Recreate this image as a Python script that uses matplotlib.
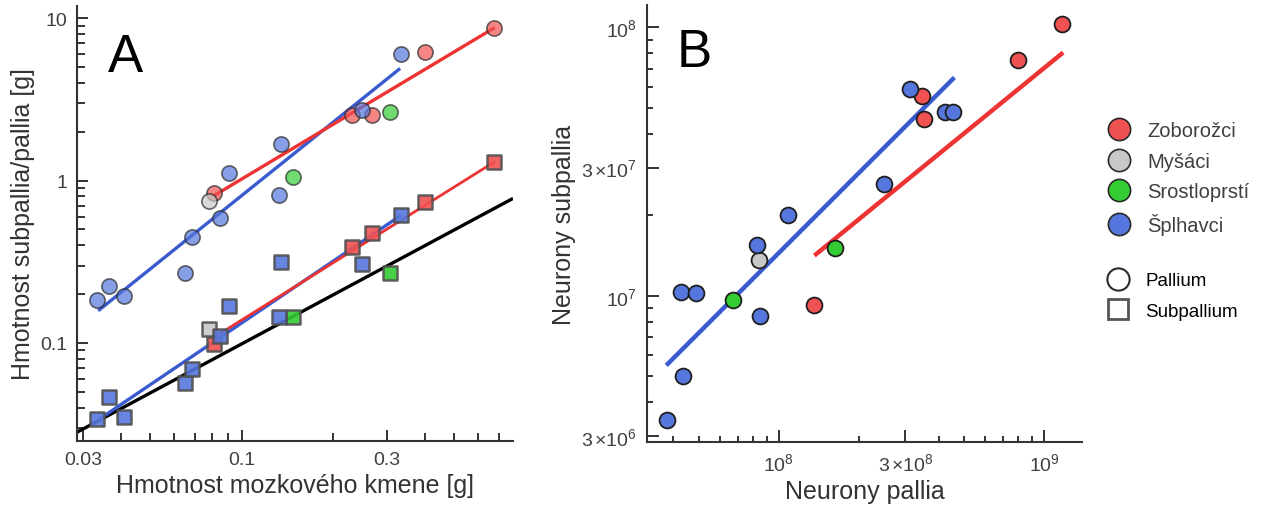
import matplotlib
matplotlib.use('Agg')
import matplotlib.pyplot as plt
from matplotlib.lines import Line2D
from matplotlib.ticker import FixedLocator, FixedFormatter, NullFormatter

plt.rcParams['font.family'] = ['Liberation Sans', 'DejaVu Sans']
plt.rcParams['mathtext.fontset'] = 'custom'
plt.rcParams['mathtext.rm'] = 'Liberation Sans'
plt.rcParams['mathtext.it'] = 'Liberation Sans:italic'

# groups
groups = ['Zoborožci', 'Myšáci', 'Srostloprstí', 'Šplhavci']
group_colors = ['#F05252', '#C8C8C8', '#33CC33', '#5577DD']

# panel A: brainstem mass [g] vs pallium / subpallium mass [g]
a_x_zob = [0.0808, 0.2299, 0.2686, 0.3993, 0.677]
a_pal_zob = [0.838, 2.54, 2.54, 6.24, 8.77]
a_sub_zob = [0.0986, 0.391, 0.473, 0.741, 1.31]

a_x_mys = [0.0782]
a_pal_mys = [0.751]
a_sub_mys = [0.122]

a_x_sro = [0.1469, 0.3070]
a_pal_sro = [1.046, 2.63]
a_sub_sro = [0.145, 0.269]

a_x_spl = [0.0334, 0.0367, 0.0411, 0.0650, 0.0684, 0.0849, 0.0909, 0.1322, 0.1349, 0.2485, 0.333]
a_pal_spl = [0.184, 0.223, 0.195, 0.270, 0.451, 0.590, 1.11, 0.818, 1.69, 2.72, 6.0]
a_sub_spl = [0.0341, 0.0467, 0.0352, 0.0565, 0.0692, 0.110, 0.170, 0.144, 0.314, 0.306, 0.616]

# panel A fit lines (end points)
a_fit_pal_spl_x = [0.0337, 0.3318]
a_fit_pal_spl_y = [0.158, 4.91]
a_fit_pal_zob_x = [0.0808, 0.680]
a_fit_pal_zob_y = [0.806, 8.77]
a_fit_sub_zob_x = [0.0808, 0.680]
a_fit_sub_zob_y = [0.108, 1.31]
a_fit_sub_spl_x = [0.0337, 0.3334]
a_fit_sub_spl_y = [0.0336, 0.610]
a_ref_x = [0.0287, 0.78]
a_ref_y = [0.0282, 0.777]

# panel B: pallial vs subpallial neurons
b_x_zob = [1.36e8, 3.46e8, 3.53e8, 7.94e8, 1.17e9]
b_y_zob = [9.2e6, 5.54e7, 4.54e7, 7.55e7, 1.03e8]
b_x_mys = [8.38e7]
b_y_mys = [1.36e7]
b_x_sro = [6.7e7, 1.63e8]
b_y_sro = [9.66e6, 1.51e7]
b_x_spl = [3.77e7, 4.29e7, 4.34e7, 4.86e7, 8.26e7, 8.48e7, 1.08e8, 2.5e8, 3.12e8, 4.22e8, 4.54e8]
b_y_spl = [3.43e6, 1.03e7, 5.02e6, 1.02e7, 1.55e7, 8.42e6, 2.0e7, 2.6e7, 5.88e7, 4.84e7, 4.84e7]

b_fit_spl_x = [3.76e7, 4.59e8]
b_fit_spl_y = [5.5e6, 6.5e7]
b_fit_zob_x = [1.36e8, 1.18e9]
b_fit_zob_y = [1.41e7, 8.05e7]

RED_LINE = '#EE3333'
BLUE_LINE = '#3A5BCF'
AX_COL = '#333333'
TXT_COL = '#404040'

fig = plt.figure(figsize=(12.64, 5.06), dpi=100)
axA = fig.add_axes([77 / 1264, 1 - 442 / 506, (513 - 77) / 1264, (442 - 7) / 506])
axB = fig.add_axes([647 / 1264, 1 - 443 / 506, (1082 - 647) / 1264, (443 - 6) / 506])


def style_axis(ax, major_len, minor_len):
    ax.set_xscale('log')
    ax.set_yscale('log')
    for s in ['top', 'right']:
        ax.spines[s].set_visible(False)
    for s in ['left', 'bottom']:
        ax.spines[s].set_color(AX_COL)
        ax.spines[s].set_linewidth(1.5)
    ax.tick_params(which='both', direction='in', color=AX_COL, width=1.4,
                   labelcolor=TXT_COL, labelsize=14)
    ax.tick_params(which='major', length=major_len)
    ax.tick_params(which='minor', length=minor_len)
    ax.tick_params(axis='x', which='both', pad=7)
    ax.tick_params(axis='y', which='both', pad=7)


# ---- panel A
style_axis(axA, 8, 5.5)
axA.plot(a_ref_x, a_ref_y, color='black', lw=2.4, zorder=2, solid_capstyle='butt')
axA.plot(a_fit_pal_spl_x, a_fit_pal_spl_y, color=BLUE_LINE, lw=2.4, zorder=2, solid_capstyle='butt')
axA.plot(a_fit_pal_zob_x, a_fit_pal_zob_y, color=RED_LINE, lw=2.4, zorder=2, solid_capstyle='butt')
axA.plot(a_fit_sub_spl_x, a_fit_sub_spl_y, color=BLUE_LINE, lw=2.4, zorder=2, solid_capstyle='butt')
axA.plot(a_fit_sub_zob_x, a_fit_sub_zob_y, color=RED_LINE, lw=2.0, zorder=2.1, solid_capstyle='butt')

a_sets = [(a_x_zob, a_pal_zob, a_sub_zob), (a_x_mys, a_pal_mys, a_sub_mys),
          (a_x_sro, a_pal_sro, a_sub_sro), (a_x_spl, a_pal_spl, a_sub_spl)]
for (xs, pal, sub), col in zip(a_sets, group_colors):
    axA.scatter(xs, pal, s=120, marker='o', facecolor=col, alpha=0.7,
                edgecolor='#2a2a2a', linewidth=1.2, zorder=3)
    axA.scatter(xs, sub, s=105, marker='s', facecolor=col, alpha=0.9,
                edgecolor='#505050', linewidth=1.8, zorder=4)

axA.set_xlim(0.0287, 0.78)
axA.set_ylim(0.0249, 11.9)
axA.xaxis.set_major_locator(FixedLocator([0.03, 0.1, 0.3]))
axA.xaxis.set_major_formatter(FixedFormatter(['0.03', '0.1', '0.3']))
axA.xaxis.set_minor_locator(FixedLocator([0.04, 0.05, 0.06, 0.07, 0.08, 0.09,
                                          0.2, 0.4, 0.5, 0.6, 0.7]))
axA.xaxis.set_minor_formatter(NullFormatter())
axA.yaxis.set_major_locator(FixedLocator([0.1, 1, 10]))
axA.yaxis.set_major_formatter(FixedFormatter(['0.1', '1', '10']))
axA.yaxis.set_minor_locator(FixedLocator([0.03, 0.04, 0.05, 0.06, 0.07, 0.08, 0.09,
                                          0.2, 0.3, 0.4, 0.5, 0.6, 0.7, 0.8, 0.9,
                                          2, 3, 4, 5, 6, 7, 8, 9]))
axA.yaxis.set_minor_formatter(NullFormatter())
axA.set_xlabel('Hmotnost mozkového kmene [g]', fontsize=18, color=AX_COL, labelpad=4)
axA.set_ylabel('Hmotnost subpallia/pallia [g]', fontsize=18, color=AX_COL, labelpad=4)

# ---- panel B
style_axis(axB, 8.4, 4.5)
axB.plot(b_fit_spl_x, b_fit_spl_y, color=BLUE_LINE, lw=3.2, zorder=2, solid_capstyle='butt')
axB.plot(b_fit_zob_x, b_fit_zob_y, color=RED_LINE, lw=3.2, zorder=2, solid_capstyle='butt')
b_sets = [(b_x_zob, b_y_zob), (b_x_mys, b_y_mys), (b_x_sro, b_y_sro), (b_x_spl, b_y_spl)]
for (xs, ys), col in zip(b_sets, group_colors):
    axB.scatter(xs, ys, s=130, marker='o', facecolor=col,
                edgecolor='#1e1e1e', linewidth=1.3, zorder=3)

axB.set_xlim(3.18e7, 1.39e9)
axB.set_ylim(2.85e6, 1.21e8)
axB.xaxis.set_major_locator(FixedLocator([1e8, 3e8, 1e9]))
axB.xaxis.set_major_formatter(FixedFormatter([r'$10^{8}$', r'$3\,{\times}10^{8}$', r'$10^{9}$']))
axB.xaxis.set_minor_locator(FixedLocator([4e7, 5e7, 6e7, 7e7, 8e7, 9e7, 2e8,
                                          4e8, 5e8, 6e8, 7e8, 8e8, 9e8]))
axB.xaxis.set_minor_formatter(NullFormatter())
axB.yaxis.set_major_locator(FixedLocator([3e6, 1e7, 3e7, 1e8]))
axB.yaxis.set_major_formatter(FixedFormatter([r'$3\,{\times}10^{6}$', r'$10^{7}$',
                                              r'$3\,{\times}10^{7}$', r'$10^{8}$']))
axB.yaxis.set_minor_locator(FixedLocator([4e6, 5e6, 6e6, 7e6, 8e6, 9e6, 2e7,
                                          4e7, 5e7, 6e7, 7e7, 8e7, 9e7]))
axB.yaxis.set_minor_formatter(NullFormatter())
axB.set_xlabel('Neurony pallia', fontsize=18, color=AX_COL, labelpad=4)
axB.set_ylabel('Neurony subpallia', fontsize=18, color=AX_COL, labelpad=4)

# panel letters
fig.text(108 / 1264, 1 - 72 / 506, 'A', fontsize=38, color='black')
fig.text(677 / 1264, 1 - 67 / 506, 'B', fontsize=38, color='black')

# legends
group_handles = [Line2D([], [], ls='', marker='o', ms=16, mfc=c, mec='#2a2a2a', mew=1.2, label=g)
                 for g, c in zip(groups, group_colors)]
leg1 = fig.legend(handles=group_handles, loc='upper left',
                  bbox_to_anchor=(1105 / 1264, 1 - 122 / 506), frameon=False,
                  fontsize=14.5, labelcolor=TXT_COL, handlelength=1.4, handletextpad=0.7,
                  borderpad=0, borderaxespad=0, labelspacing=0.58)
tissue_handles = [Line2D([], [], ls='', marker='o', ms=16, mfc='white', mec='#2a2a2a', mew=1.5, label='Pallium'),
                  Line2D([], [], ls='', marker='s', ms=14.5, mfc='white', mec='#555555', mew=2.0, label='Subpallium')]
leg2 = fig.legend(handles=tissue_handles, loc='upper left',
                  bbox_to_anchor=(1105 / 1264, 1 - 273 / 506), frameon=False,
                  fontsize=13.5, labelcolor='black', handlelength=1.4, handletextpad=0.75,
                  borderpad=0, borderaxespad=0, labelspacing=0.72)

fig.savefig('out.png', dpi=100)
